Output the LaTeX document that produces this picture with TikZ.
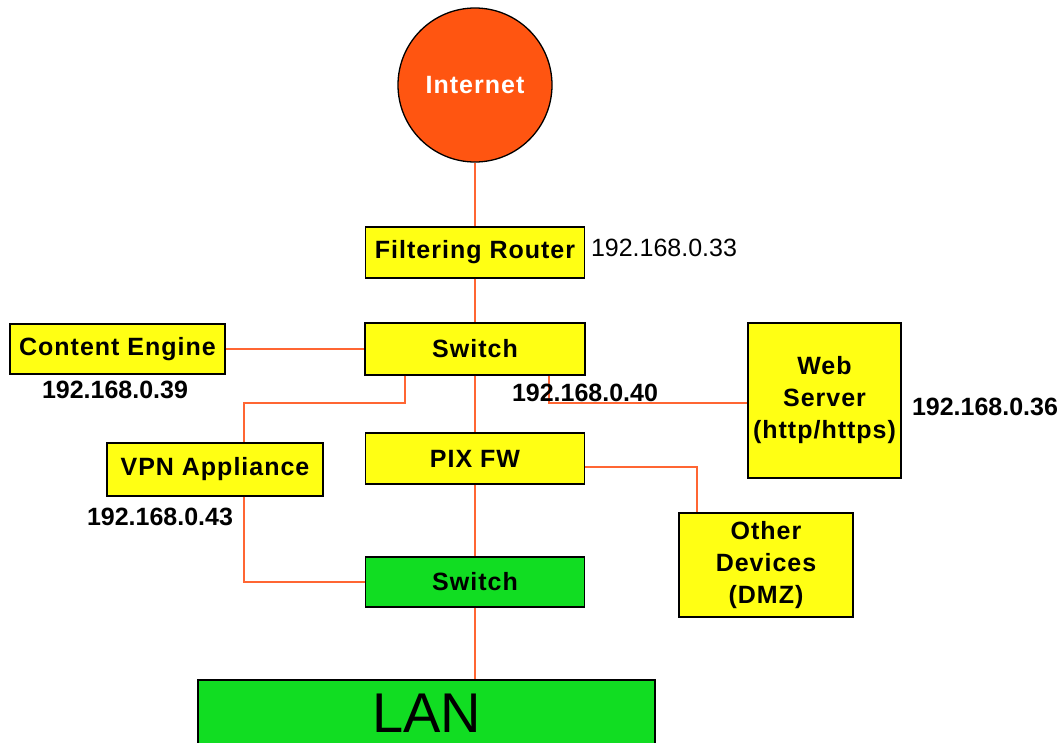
\documentclass[tikz,border=0pt]{standalone}
\usepackage{fontspec}
\setmainfont{Liberation Sans}
\newfontfamily\boxfont{Liberation Sans}[LetterSpace=4]
\definecolor{boxyellow}{RGB}{255,255,20}
\definecolor{boxgreen}{RGB}{17,221,34}
\definecolor{netorange}{RGB}{255,85,17}
\definecolor{wire}{RGB}{255,102,51}
\begin{document}
\begin{tikzpicture}[x=1pt,y=-1pt,
  devbox/.style={draw=black,line width=1.3pt,rectangle,inner sep=0pt,align=center,
    font=\boxfont\bfseries\fontsize{25}{32}\selectfont},
  ybox/.style={devbox,fill=boxyellow},
  gbox/.style={devbox,fill=boxgreen},
  iplabel/.style={inner sep=0pt,font=\bfseries\fontsize{25}{30}\selectfont},
  wireline/.style={draw=wire,line width=1.6pt}]
\useasboundingbox (0,0) rectangle (1062,742);

% nodes
\node[draw=black,line width=1.3pt,circle,fill=netorange,minimum size=154pt,inner sep=0pt,
  text=white,font=\boxfont\bfseries\fontsize{25}{30}\selectfont] (inet) at (475,85) {Internet};
\node[ybox,minimum width=219pt,minimum height=51pt] (router) at (475,252.5) {Filtering Router};
\node[ybox,minimum width=220pt,minimum height=52pt] (sw1) at (475,349) {Switch};
\node[ybox,minimum width=215pt,minimum height=50pt] (ce) at (117.5,349) {Content Engine};
\node[ybox,minimum width=153pt,minimum height=155pt] (web) at (824.5,400.5) {Web\\Server\\(http/https)};
\node[ybox,minimum width=219pt,minimum height=51pt] (pix) at (475,458.5) {PIX FW};
\node[ybox,minimum width=174pt,minimum height=104pt] (other) at (766,565) {Other\\Devices\\(DMZ)};
\node[gbox,minimum width=219pt,minimum height=50pt] (sw2) at (475,582) {Switch};

% junction coordinates
\coordinate (j1) at (405,403);
\coordinate (j2) at (244,403);
\coordinate (j3) at (549,403);
\coordinate (j4) at (697,467);

% LAN
\node[draw=black,line width=1.3pt,fill=boxgreen,rectangle,inner sep=0pt,
  minimum width=457pt,minimum height=66pt,
  font=\fontsize{56}{60}\selectfont] (lan) at (426.5,713) {LAN};

% connectors (drawn before VPN box so the box covers the wire)
\draw[wireline] (inet.south) -- (router.north);
\draw[wireline] (router.south) -- (sw1.north);
\draw[wireline] (ce.east) -- (sw1.west);
\draw[wireline] (sw1.south) -- (pix.north);
\draw[wireline] (sw1.south -| j1) -- (j1) -- (j2) -- ++(0,40);
\draw[wireline] (sw1.south -| j3) -- (j3) -- (j3 -| web.west);
\draw[wireline] (pix.east |- j4) -- (j4) -- (other.north -| j4);
\draw[wireline] (pix.south) -- (sw2.north);
\draw[wireline] (sw2.south) -- (sw2.south |- lan.north);

\node[ybox,minimum width=216pt,minimum height=53pt] (vpn) at (215,469.5) {VPN Appliance};
\draw[wireline] (vpn.south -| j2) |- (sw2.west);

% IP labels
\node[iplabel,font=\fontsize{25}{30}\selectfont] (ip33) at (664,248) {192.168.0.33};
\node[iplabel] (ip39) at (115,390) {192.168.0.39};
\node[iplabel] (ip40) at (585,393) {192.168.0.40};
\node[iplabel] (ip36) at (985,407) {192.168.0.36};
\node[iplabel] (ip43) at (160,517) {192.168.0.43};
\end{tikzpicture}
\end{document}
